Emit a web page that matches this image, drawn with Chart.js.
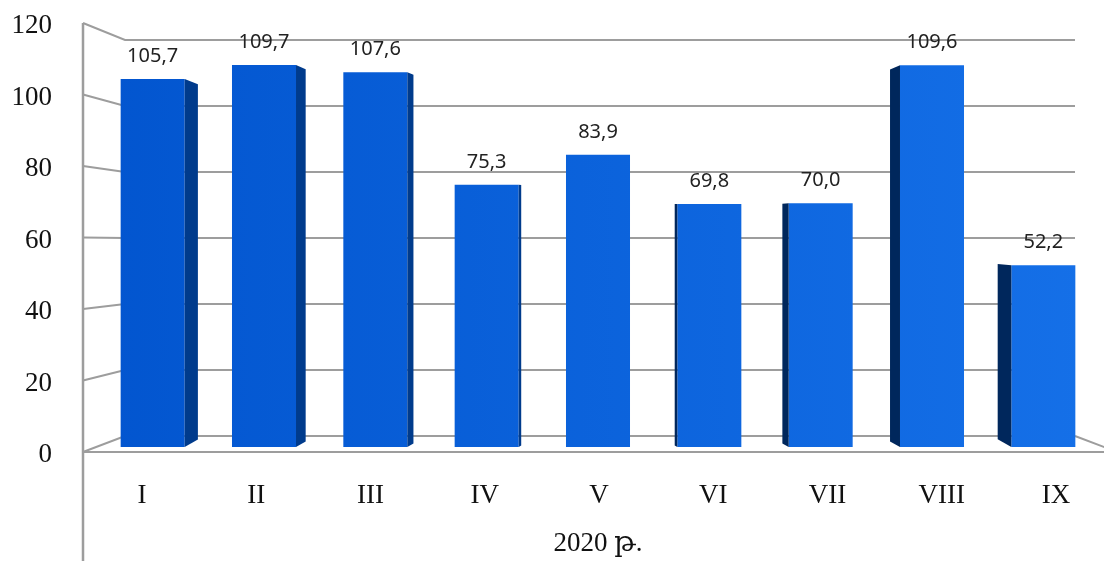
<!DOCTYPE html>
<html>
<head>
<meta charset="utf-8">
<script src="https://cdn.jsdelivr.net/npm/chart.js@4.4.1/dist/chart.umd.min.js"></script>
<style>
  html, body { margin: 0; padding: 0; background: #fff; }
  #wrap { width: 1104px; height: 561px; }
</style>
</head>
<body>
<div id="wrap"><canvas id="chBar"></canvas></div>
<script>
// data
var months = ['I', 'II', 'III', 'IV', 'V', 'VI', 'VII', 'VIII', 'IX'];
var values = [105.7, 109.7, 107.6, 75.3, 83.9, 69.8, 70.0, 109.6, 52.2];
var yTicks = [0, 20, 40, 60, 80, 100, 120];
var axisTitle = '2020 թ.';

// look of the fake 3d box
var serif = "'Liberation Serif', 'DejaVu Serif', serif";
var lineColor = '#9d9d9d';
var wallShrink = 0.923;   // back wall vs front axis
var vpValue = 58.2;       // value where front and back meet

var box3d = {
  id: 'box3d',
  beforeDatasetsDraw: function(chart) {
    var ctx = chart.ctx, ca = chart.chartArea, yF = chart.scales.y;
    var vpY = yF.getPixelForValue(vpValue);
    var axisX = ca.left - 14, backL = ca.left + 28, backR = ca.right - 24;
    var back = function(y) { return vpY + (y - vpY) * wallShrink; };
    ctx.save();
    ctx.strokeStyle = lineColor;
    ctx.lineWidth = 2;
    yTicks.forEach(function(v) {
      var fy = yF.getPixelForValue(v), by = back(fy);
      ctx.beginPath();
      ctx.moveTo(axisX, fy);
      ctx.lineTo(backL, by);
      ctx.lineTo(backR, by);
      ctx.stroke();
    });
    // floor front edge and right edge
    var f0 = yF.getPixelForValue(0), b0 = back(f0);
    ctx.beginPath();
    ctx.moveTo(axisX, f0);
    ctx.lineTo(chart.width, f0);
    ctx.moveTo(backR, b0);
    ctx.lineTo(backR + 42, f0);
    ctx.stroke();
    // vertical axis line, runs down through the label area
    ctx.lineWidth = 2.5;
    ctx.beginPath();
    ctx.moveTo(axisX, yF.getPixelForValue(120));
    ctx.lineTo(axisX, chart.height);
    ctx.stroke();
    ctx.restore();
  },
  afterDatasetsDraw: function(chart) {
    var ctx = chart.ctx, ca = chart.chartArea;
    var meta = chart.getDatasetMeta(0);
    var vpX = (ca.left + ca.right) / 2;
    var vpY = chart.scales.yb.getPixelForValue(62);
    ctx.save();
    meta.data.forEach(function(bar, i) {
      var p = bar.getProps(['x', 'y', 'base', 'width'], true);
      var l = p.x - p.width / 2, r = p.x + p.width / 2;
      var edge = null, dx = 0;
      if (r < vpX) { edge = r; dx = (vpX - r) * 0.032; ctx.fillStyle = '#003b8c'; }
      else if (l > vpX) { edge = l; dx = (vpX - l) * 0.033; ctx.fillStyle = '#00275c'; }
      if (edge !== null) {
        var k = 1 - Math.abs(dx) * 0.0026;
        ctx.beginPath();
        ctx.moveTo(edge, p.y);
        ctx.lineTo(edge + dx, vpY + (p.y - vpY) * k);
        ctx.lineTo(edge + dx, vpY + (p.base - vpY) * k);
        ctx.lineTo(edge, p.base);
        ctx.closePath();
        ctx.fill();
      }
      // value label
      ctx.fillStyle = '#222';
      ctx.font = "20px 'Noto Sans', 'DejaVu Sans', sans-serif";
      ctx.textAlign = 'center';
      ctx.textBaseline = 'alphabetic';
      ctx.fillText(values[i].toFixed(1).replace('.', ','), p.x, p.y - 17);
    });
    ctx.restore();
  }
};

var chBar = document.getElementById('chBar');
new Chart(chBar, {
  type: 'bar',
  data: {
    labels: months,
    datasets: [{
      data: values,
      yAxisID: 'yb',
      xAxisID: 'x',
      borderWidth: 0,
      barPercentage: 0.575,
      categoryPercentage: 1,
      backgroundColor: function(c) {
        var ca = c.chart.chartArea;
        if (!ca) return '#0a5fd8';
        var g = c.chart.ctx.createLinearGradient(ca.left, 0, ca.right, 0);
        g.addColorStop(0, '#0255cf');
        g.addColorStop(1, '#1570e8');
        return g;
      }
    }]
  },
  options: {
    responsive: true,
    maintainAspectRatio: false,
    animation: false,
    devicePixelRatio: 1,
    layout: { padding: { left: 0, right: 5, top: 23, bottom: 0 } },
    plugins: { legend: { display: false }, tooltip: { enabled: false } },
    scales: {
      x: { type: 'category', display: false },
      xl: {
        type: 'linear',
        position: 'bottom',
        offset: false,
        min: -0.394,
        max: 8.376,
        grid: { display: false, offset: false },
        border: { display: false },
        afterBuildTicks: function(s) { s.ticks = months.map(function(m, i) { return { value: i }; }); },
        afterFit: function(s) { s.height = 109; s.paddingLeft = 0; s.paddingRight = 0; },
        ticks: {
          autoSkip: false,
          maxRotation: 0,
          padding: 20,
          color: '#111',
          font: { family: serif, size: 27 },
          callback: function(v) { return months[v]; }
        },
        title: {
          display: true,
          text: axisTitle,
          color: '#111',
          font: { family: serif, size: 27 },
          padding: { top: 0, bottom: 1 }
        }
      },
      y: {
        type: 'linear',
        position: 'left',
        min: 0,
        max: 120,
        grid: { display: false },
        border: { display: false },
        afterBuildTicks: function(s) { s.ticks = yTicks.map(function(v) { return { value: v }; }); },
        afterFit: function(s) { s.width = 97; s.paddingTop = 0; s.paddingBottom = 0; },
        ticks: {
          padding: 37,
          labelOffset: 3,
          color: '#111',
          font: { family: serif, size: 27 }
        }
      },
      yb: { type: 'linear', display: false, min: -1.44, max: 121.75 }
    }
  },
  plugins: [box3d]
});
</script>
</body>
</html>
